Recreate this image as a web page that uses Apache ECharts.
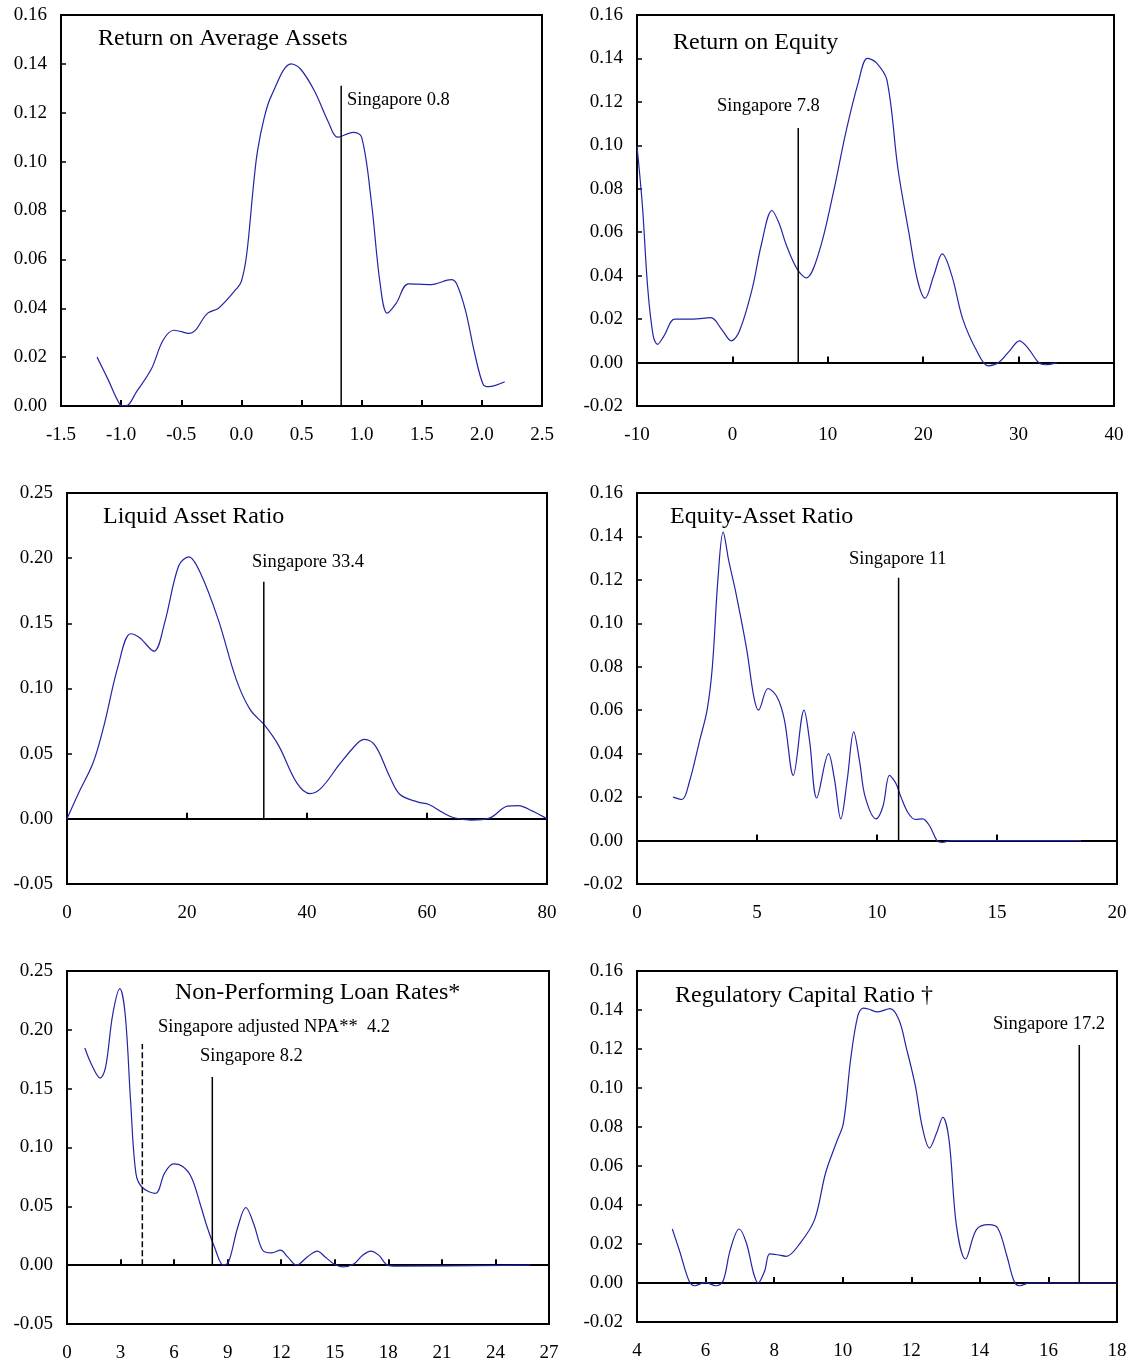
<!DOCTYPE html>
<html>
<head>
<meta charset="utf-8">
<script src="https://cdn.jsdelivr.net/npm/echarts@6/dist/echarts.min.js"></script>
<style>
html,body{margin:0;padding:0;background:#fff;}
#chart{width:1135px;height:1366px;}
</style>
</head>
<body>
<div id="chart"></div>
<script>
// ---------- DATA ----------
const roaCurve = [[-1.2,0.020],[-1.11,0.011],[-1.01,0.0007],[-0.96,0.0],[-0.87,0.006],[-0.75,0.015],[-0.65,0.027],[-0.56,0.031],[-0.43,0.0297],[-0.28,0.038],[-0.19,0.040],[-0.04,0.048],[0.0,0.051],[0.044,0.062],[0.10,0.090],[0.133,0.104],[0.19,0.118],[0.25,0.127],[0.414,0.140],[0.49,0.138],[0.607,0.129],[0.725,0.116],[0.80,0.110],[0.93,0.112],[1.0,0.110],[1.08,0.084],[1.154,0.050],[1.213,0.038],[1.287,0.042],[1.39,0.050],[1.58,0.0497],[1.746,0.0517],[1.79,0.050],[1.864,0.039],[1.938,0.022],[2.01,0.0089],[2.056,0.0079],[2.19,0.0099]];
const roeCurve = [[-10,0.0996],[-9.43,0.072],[-8.87,0.034],[-8.3,0.0123],[-7.85,0.0084],[-7.17,0.0123],[-6.04,0.020],[-4.15,0.020],[-2.26,0.0207],[-1.13,0.0153],[-0.11,0.010],[0.75,0.0146],[2.08,0.034],[3.02,0.054],[4.15,0.070],[4.9,0.064],[5.66,0.054],[6.79,0.043],[7.74,0.039],[9.06,0.0506],[10.57,0.078],[11.89,0.106],[13.2,0.129],[14.15,0.140],[15.1,0.138],[16.2,0.130],[17.36,0.089],[18.49,0.060],[19.4,0.038],[20.2,0.0296],[21.1,0.040],[22.0,0.050],[23.0,0.040],[24.15,0.020],[25.7,0.0046],[26.8,-0.0015],[27.9,0.0],[29.06,0.0054],[30.08,0.010],[30.94,0.0069],[32.1,0.0],[32.8,-0.001],[34,0.0]];
const liqCurve = [[0,0],[1.96,0.020],[4.35,0.043],[6.13,0.071],[8.5,0.117],[10.6,0.142],[12.1,0.139],[14.5,0.1286],[16.25,0.150],[18.6,0.194],[20.3,0.201],[22.2,0.189],[25.2,0.153],[28.2,0.107],[30.5,0.084],[32.9,0.072],[35.3,0.056],[38.3,0.0276],[40.5,0.0194],[42.4,0.0238],[45.4,0.0417],[48.4,0.058],[49.6,0.061],[51.4,0.056],[53.75,0.0327],[55.5,0.0187],[58.5,0.0128],[60.3,0.011],[62.7,0.0046],[64.5,0.0008],[67.4,-0.001],[70.4,0.0005],[73.4,0.0097],[75.2,0.0102],[77.6,0.0059],[80,0]];
const eqaCurve = [[1.5,0.020],[1.87,0.0189],[2.17,0.0265],[2.62,0.0465],[2.92,0.060],[3.14,0.080],[3.37,0.120],[3.59,0.142],[3.82,0.129],[4.12,0.114],[4.57,0.088],[4.87,0.066],[5.06,0.060],[5.46,0.070],[5.84,0.066],[6.14,0.0557],[6.51,0.030],[6.96,0.060],[7.19,0.046],[7.49,0.0196],[7.98,0.040],[8.23,0.028],[8.49,0.010],[8.76,0.028],[9.03,0.050],[9.28,0.036],[9.51,0.020],[9.96,0.010],[10.25,0.0158],[10.52,0.030],[10.78,0.0265],[11.0,0.020],[11.3,0.0127],[11.6,0.0097],[11.9,0.010],[12.2,0.0066],[12.5,0.0],[12.72,-0.0008],[13.1,0],[18.5,0]];
const nplCurve = [[1.0,0.1845],[1.36,0.171],[1.86,0.159],[2.16,0.168],[2.56,0.213],[2.96,0.235],[3.26,0.213],[3.56,0.140],[3.86,0.078],[4.22,0.066],[4.96,0.061],[5.46,0.078],[5.96,0.086],[6.46,0.084],[6.96,0.075],[7.46,0.052],[7.86,0.032],[8.26,0.0155],[8.76,0.0],[9.06,0.003],[9.56,0.032],[10.02,0.049],[10.46,0.035],[10.96,0.0127],[11.46,0.0105],[11.96,0.0127],[12.36,0.007],[12.86,0],[13.46,0.007],[14.02,0.012],[14.46,0.007],[14.96,0.001],[15.46,-0.0014],[16.06,0.001],[16.56,0.0085],[17.02,0.012],[17.46,0.0085],[17.96,0],[18.46,-0.0008],[25.96,0]];
const rcrCurve = [[5.03,0.0277],[5.26,0.0154],[5.52,0.001],[5.68,-0.0014],[5.99,0.0003],[6.3,-0.0014],[6.51,0.001],[6.72,0.017],[6.98,0.0277],[7.19,0.0205],[7.4,0.005],[7.53,0.0],[7.72,0.006],[7.87,0.0149],[8.08,0.0145],[8.35,0.0137],[8.76,0.0205],[9.18,0.0325],[9.5,0.0564],[9.81,0.0718],[10.02,0.082],[10.23,0.1145],[10.44,0.137],[10.6,0.141],[10.75,0.1405],[11.02,0.139],[11.38,0.1407],[11.64,0.135],[11.85,0.121],[12.12,0.101],[12.32,0.080],[12.53,0.0692],[12.74,0.077],[12.92,0.085],[13.1,0.0735],[13.32,0.029],[13.58,0.0123],[13.9,0.0274],[14.26,0.0299],[14.52,0.0282],[14.79,0.0137],[15.0,0.0009],[15.15,-0.0014],[15.47,0],[18.0,0]];

// Singapore reference lines: [x, top of line]
const roaSingapore = [0.83, 0.131];
const roeSingapore = [6.9, 0.108];
const liqSingapore = [32.8, 0.182];
const eqaSingapore = [10.9, 0.121];
const nplSingapore = [8.14, 0.160];
const nplAdjusted = [4.22, 0.188];
const rcrSingapore = [16.9, 0.122];

// Panel titles and annotation texts
const titles = ['Return on Average Assets','Return on Equity','Liquid Asset Ratio','Equity-Asset Ratio','Non-Performing Loan Rates*','Regulatory Capital Ratio \u2020'];
const sgLabels = ['Singapore 0.8','Singapore 7.8','Singapore 33.4','Singapore 11','Singapore adjusted NPA**  4.2','Singapore 8.2','Singapore 17.2'];

// Axis ranges: [min, max, interval, decimals]
const xRanges = [[-1.5,2.5,0.5,1],[-10,40,10,0],[0,80,20,0],[0,20,5,0],[0,27,3,0],[4,18,2,0]];
const yRanges = [[0,0.16,0.02],[-0.02,0.16,0.02],[-0.05,0.25,0.05],[-0.02,0.16,0.02],[-0.05,0.25,0.05],[-0.02,0.16,0.02]];

// ---------- LAYOUT ----------
const FONT = '"Liberation Serif","Times New Roman",serif';
const grids = [
  {left:61, top:15, width:481, height:391},
  {left:637, top:15, width:477, height:391},
  {left:67, top:493, width:480, height:391},
  {left:637, top:493, width:480, height:391},
  {left:67, top:971, width:482, height:353},
  {left:637, top:971, width:480, height:351}
];
const curves = [roaCurve, roeCurve, liqCurve, eqaCurve, nplCurve, rcrCurve];
const vlines = [
  [roaSingapore,0,'solid'],[roeSingapore,1,'solid'],[liqSingapore,2,'solid'],[eqaSingapore,3,'solid'],
  [nplAdjusted,4,'dashed'],[nplSingapore,4,'solid'],[rcrSingapore,5,'solid']
];
const titlePos = [[98,27],[673,31],[103,505],[670,505],[175,981],[675,984]];
const sgPos = [[347,91],[717,97],[252,553],[849,550],[158,1018],[200,1047],[993,1015]];

const xAxes = [], yAxes = [], series = [], graphic = [];
grids.forEach((g, i) => {
  const xr = xRanges[i], yr = yRanges[i];
  xAxes.push({
    type:'value', gridIndex:i, position:'bottom', min:xr[0], max:xr[1], interval:xr[2],
    axisLine:{show:true, onZero:true, lineStyle:{color:'#000', width:2}},
    axisTick:{show:true, inside:true, length:6, lineStyle:{color:'#000', width:2}},
    axisLabel:{show:false}, splitLine:{show:false}
  });
  xAxes.push({
    type:'value', gridIndex:i, position:'bottom', min:xr[0], max:xr[1], interval:xr[2],
    axisLine:{show:false, onZero:false}, axisTick:{show:false}, splitLine:{show:false},
    axisLabel:{show:true, margin:20, color:'#000', fontFamily:FONT, fontSize:19,
      formatter: v => v.toFixed(xr[3])}
  });
  yAxes.push({
    type:'value', gridIndex:i, min:yr[0], max:yr[1], interval:yr[2],
    axisLine:{show:true, onZero:false, lineStyle:{color:'#000', width:2}},
    axisTick:{show:true, inside:true, length:5, lineStyle:{color:'#000', width:1.5}},
    axisLabel:{show:true, margin:14, color:'#000', fontFamily:FONT, fontSize:19,
      formatter: v => v.toFixed(2)},
    splitLine:{show:false}
  });
  series.push({
    type:'line', xAxisIndex:2*i, yAxisIndex:i, data:curves[i], smooth:0.35,
    showSymbol:false, symbol:'none', lineStyle:{color:'#2424a6', width:1.2}, z:3, animation:false
  });
  graphic.push({type:'text', left:titlePos[i][0], top:titlePos[i][1],
    style:{text:titles[i], font:'24px ' + FONT, fill:'#000'}});
});
vlines.forEach((v, k) => {
  const [pt, gi, ty] = v;
  series.push({
    type:'line', xAxisIndex:2*gi, yAxisIndex:gi, data:[[pt[0],0],[pt[0],pt[1]]],
    showSymbol:false, symbol:'none', lineStyle:{color:'#000', width:1.5, type:ty}, z:4, animation:false
  });
});
sgLabels.forEach((t, k) => {
  graphic.push({type:'text', left:sgPos[k][0], top:sgPos[k][1],
    style:{text:t, font:'18.5px ' + FONT, fill:'#000'}});
});

const chart = echarts.init(document.getElementById('chart'), null, {renderer:'canvas'});
chart.setOption({
  backgroundColor:'#fff',
  animation:false,
  grid: grids.map(g => Object.assign({show:true, borderColor:'#000', borderWidth:2, backgroundColor:'transparent', containLabel:false}, g)),
  xAxis: xAxes,
  yAxis: yAxes,
  series: series,
  graphic: graphic
});
</script>
</body>
</html>
